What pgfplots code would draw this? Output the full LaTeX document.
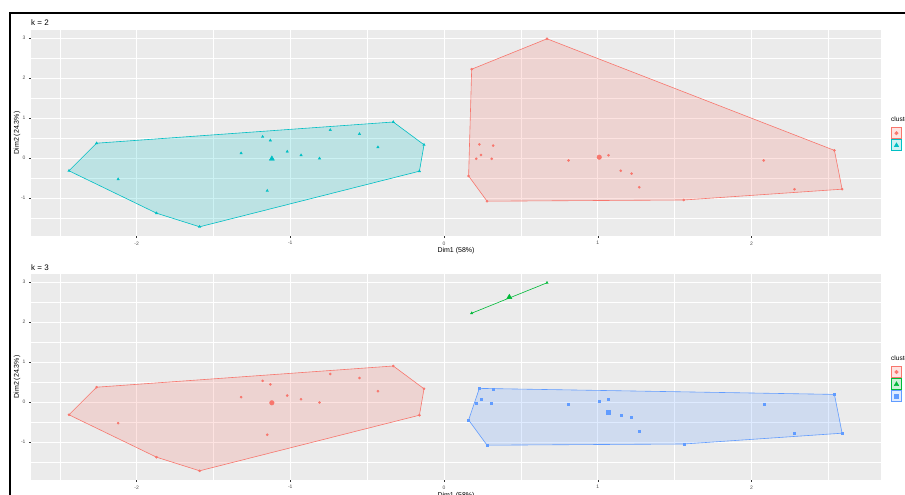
\documentclass[border=0pt]{standalone}
\usepackage{fontspec}
\setmainfont{Liberation Sans}
\usepackage{pgfplots}
\pgfplotsset{compat=1.18}
\definecolor{ggred}{HTML}{F8766D}
\definecolor{ggcyan}{HTML}{00BFC4}
\definecolor{gggreen}{HTML}{00BA38}
\definecolor{ggblue}{HTML}{619CFF}
\definecolor{ggbg}{HTML}{EBEBEB}
\definecolor{ggtext}{HTML}{4D4D4D}
\definecolor{ggtick}{HTML}{333333}
\pgfplotsset{ggpanel/.style={
  scale only axis, width=850pt, height=206pt,
  xmin=-2.687, xmax=2.843, ymin=-1.95, ymax=3.2,
  clip mode=individual,
  axis background/.style={fill=ggbg},
  axis line style={draw=none},
  xtick={-2,-1,0,1,2}, xticklabels={-2,-1,0,1,2},
  ytick={-1,0,1,2,3}, yticklabels={-1,0,1,2,3},
  minor xtick={-2.5,-1.5,-0.5,0.5,1.5,2.5},
  minor ytick={-1.5,-0.5,0.5,1.5,2.5},
  grid=both,
  major grid style={white, line width=0.7pt},
  minor grid style={white, line width=0.35pt},
  tick align=outside, major tick length=2pt, minor tick length=0pt,
  xtick pos=left, ytick pos=left,
  tick style={color=ggtick, line width=0.4pt},
  ticklabel style={font=\fontsize{5}{6}\selectfont, text=ggtext},
  xlabel={Dim1 (58\%)}, ylabel={Dim2 (24.3\%)},
  label style={font=\fontsize{7}{8}\selectfont},
  xlabel style={at={(axis description cs:0.5,-0.073)}, anchor=center},
  ylabel style={at={(axis description cs:-0.0165,0.5)}, anchor=center},
  legend cell align=left,
},
hull/.style={line width=0.6pt, fill opacity=0.2, draw opacity=1, forget plot},
pts/.style={only marks, mark size=1.1pt, forget plot},
}
\begin{document}
\begin{tikzpicture}[x=1pt,y=1pt]
\useasboundingbox (0,0) rectangle (905,495);
\draw[line width=1.2pt] (10,0) -- (10,482) -- (905,482);

% ---------------- k = 2 ----------------
\begin{axis}[ggpanel, at={(31pt,259pt)}, anchor=south west,
  legend style={at={(axis description cs:1.0118,0.528)}, anchor=north west, draw=none, fill=none,
    inner sep=0pt, row sep=0.5pt, font=\fontsize{6.5}{7.5}\selectfont,
    /tikz/every odd column/.append style={column sep=12pt}}]
\addplot[hull, draw=ggcyan, fill=ggcyan] coordinates {
 (-2.44,-0.32) (-2.26,0.37) (-0.33,0.90) (-0.13,0.33) (-0.16,-0.33) (-1.59,-1.72) (-1.87,-1.38)} -- cycle;
\addplot[hull, draw=ggred, fill=ggred] coordinates {
 (0.16,-0.45) (0.18,2.22) (0.67,2.98) (2.54,0.19) (2.59,-0.78) (1.56,-1.05) (0.28,-1.08)} -- cycle;
\addplot[pts, mark=triangle*, mark size=1.4pt, color=ggcyan] table {
x y
-2.44 -0.32
-2.26 0.37
-2.12 -0.53
-1.87 -1.38
-1.59 -1.72
-1.32 0.12
-1.18 0.53
-1.15 -0.82
-1.13 0.44
-1.02 0.16
-0.93 0.07
-0.81 -0.01
-0.74 0.70
-0.55 0.60
-0.43 0.27
-0.33 0.90
-0.16 -0.33
-0.13 0.33
};
\addplot[pts, mark=*, color=ggred] table {
x y
0.16 -0.45
0.18 2.22
0.21 -0.02
0.23 0.34
0.24 0.075
0.28 -1.08
0.31 -0.02
0.32 0.31
0.67 2.98
0.81 -0.06
1.01 0.02
1.07 0.07
1.15 -0.32
1.22 -0.39
1.27 -0.73
1.56 -1.05
2.08 -0.06
2.28 -0.78
2.54 0.19
2.59 -0.78
};
\addplot[pts, mark=triangle*, mark size=3pt, color=ggcyan] coordinates {(-1.12,-0.02)};
\addplot[pts, mark=*, mark size=2.3pt, color=ggred] coordinates {(1.01,0.02)};
\addlegendimage{legend image code/.code={\draw[draw=ggred, fill=ggred, fill opacity=0.2, line width=0.5pt] (0pt,-5.5pt) rectangle (10pt,5.5pt); \fill[ggred] (5pt,0pt) circle (1.8pt);}}
\addlegendentry{1}
\addlegendimage{legend image code/.code={\draw[draw=ggcyan, fill=ggcyan, fill opacity=0.2, line width=0.5pt] (0pt,-5.5pt) rectangle (10pt,5.5pt); \fill[ggcyan] (5pt,2.4pt) -- (2.7pt,-1.6pt) -- (7.3pt,-1.6pt) -- cycle;}}
\addlegendentry{2}
\node[anchor=west, inner sep=0pt, font=\fontsize{8}{9.5}\selectfont] at (axis description cs:0,1.034) {k = 2};
\node[anchor=west, inner sep=0pt, font=\fontsize{6.5}{7.5}\selectfont] at (axis description cs:1.0118,0.566) {cluster};
\end{axis}

% ---------------- k = 3 ----------------
\begin{axis}[ggpanel, at={(31pt,15pt)}, anchor=south west,
  legend style={at={(axis description cs:1.0118,0.553)}, anchor=north west, draw=none, fill=none,
    inner sep=0pt, row sep=0.5pt, font=\fontsize{6.5}{7.5}\selectfont,
    /tikz/every odd column/.append style={column sep=12pt}},
  xlabel style={at={(axis description cs:0.5,-0.078)}, anchor=center}]
\addplot[hull, draw=ggred, fill=ggred] coordinates {
 (-2.44,-0.32) (-2.26,0.37) (-0.33,0.90) (-0.13,0.33) (-0.16,-0.33) (-1.59,-1.72) (-1.87,-1.38)} -- cycle;
\addplot[hull, draw=ggblue, fill=ggblue] coordinates {
 (0.16,-0.45) (0.23,0.34) (2.54,0.19) (2.59,-0.78) (1.56,-1.05) (0.28,-1.08)} -- cycle;
\addplot[hull, draw=gggreen, fill=gggreen] coordinates {(0.18,2.22) (0.67,2.98)};
\addplot[pts, mark=*, color=ggred] table {
x y
-2.44 -0.32
-2.26 0.37
-2.12 -0.53
-1.87 -1.38
-1.59 -1.72
-1.32 0.12
-1.18 0.53
-1.15 -0.82
-1.13 0.44
-1.02 0.16
-0.93 0.07
-0.81 -0.01
-0.74 0.70
-0.55 0.60
-0.43 0.27
-0.33 0.90
-0.16 -0.33
-0.13 0.33
};
\addplot[pts, mark=triangle*, mark size=1.4pt, color=gggreen] table {
x y
0.18 2.22
0.67 2.98
};
\addplot[pts, mark=square*, mark size=1.0pt, color=ggblue] table {
x y
0.16 -0.45
0.21 -0.02
0.23 0.34
0.24 0.075
0.28 -1.08
0.31 -0.02
0.32 0.31
0.81 -0.06
1.01 0.02
1.07 0.07
1.15 -0.32
1.22 -0.39
1.27 -0.73
1.56 -1.05
2.08 -0.06
2.28 -0.78
2.54 0.19
2.59 -0.78
};
\addplot[pts, mark=*, mark size=2.3pt, color=ggred] coordinates {(-1.12,-0.02)};
\addplot[pts, mark=triangle*, mark size=3pt, color=gggreen] coordinates {(0.425,2.62)};
\addplot[pts, mark=square*, mark size=2.2pt, color=ggblue] coordinates {(1.07,-0.25)};
\addlegendimage{legend image code/.code={\draw[draw=ggred, fill=ggred, fill opacity=0.2, line width=0.5pt] (0pt,-5.5pt) rectangle (10pt,5.5pt); \fill[ggred] (5pt,0pt) circle (1.8pt);}}
\addlegendentry{1}
\addlegendimage{legend image code/.code={\draw[draw=gggreen, fill=gggreen, fill opacity=0.2, line width=0.5pt] (0pt,-5.5pt) rectangle (10pt,5.5pt); \fill[gggreen] (5pt,2.4pt) -- (2.7pt,-1.6pt) -- (7.3pt,-1.6pt) -- cycle;}}
\addlegendentry{2}
\addlegendimage{legend image code/.code={\draw[draw=ggblue, fill=ggblue, fill opacity=0.2, line width=0.5pt] (0pt,-5.5pt) rectangle (10pt,5.5pt); \fill[ggblue] (3.2pt,-1.8pt) rectangle (6.8pt,1.8pt);}}
\addlegendentry{3}
\node[anchor=west, inner sep=0pt, font=\fontsize{8}{9.5}\selectfont] at (axis description cs:0,1.029) {k = 3};
\node[anchor=west, inner sep=0pt, font=\fontsize{6.5}{7.5}\selectfont] at (axis description cs:1.0118,0.592) {cluster};
\end{axis}
\end{tikzpicture}
\end{document}
